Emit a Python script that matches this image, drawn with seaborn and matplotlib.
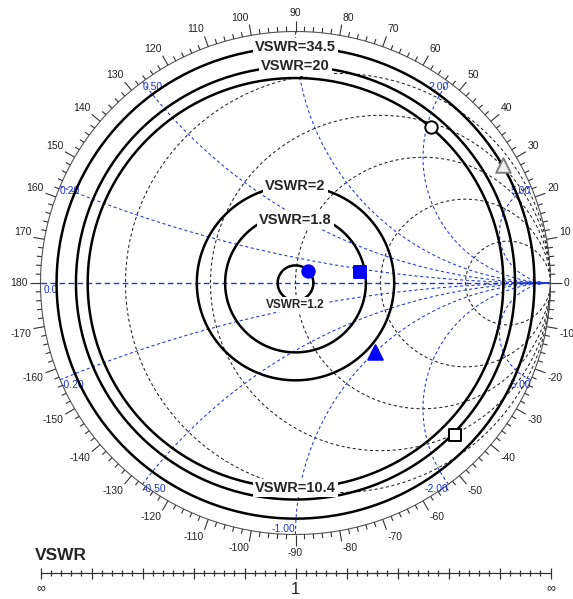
import numpy as np
import pandas as pd
import matplotlib
matplotlib.use("Agg")
import matplotlib.pyplot as plt
from matplotlib.collections import LineCollection
import seaborn as sns

# -----------------------------
# DATA
# -----------------------------
vswr_labels = ["34.5", "20", "10.4", "2", "1.8", "1.2"]
vswr_gamma = [0.937, 0.861, 0.815, 0.387, 0.276, 0.070]   # drawn radius |Gamma|
vswr_label_side = ["top", "top", "bottom", "top", "top", "bottom"]

resistance_values = [0.2, 0.5, 1.0, 2.0, 5.0]
reactance_values = [0.2, 0.5, 1.0, 2.0, 5.0, -0.2, -0.5, -1.0, -2.0, -5.0]
reactance_labels = ["0.20", "0.50", "", "2.00", "5.00", "-0.20", "-0.50", "-1.00", "-2.00", "-5.00"]

marker_re = [0.049, 0.253, 0.312, 0.531, 0.814, 0.625]
marker_im = [0.048, 0.044, -0.274, 0.620, 0.469, -0.604]
marker_shape = ["o", "s", "^", "o", "^", "s"]
marker_face = ["#0000ff", "#0000ff", "#0000ff", "white", "#eeeeee", "white"]
marker_edge = ["#0000ff", "#0000ff", "#0000ff", "black", "#7f7f7f", "black"]

angle_labels = list(range(-170, 190, 10))

# -----------------------------
# STYLE / LAYOUT
# -----------------------------
sns.set_theme(style="white")
plt.rcParams["font.family"] = ["Liberation Sans", "DejaVu Sans"]

W, H = 573, 599
CX, CY = 295.5, 283.0   # chart centre in pixels
RX, RY = 255.0, 251.5   # pixels per unit Gamma
BLUE = "#1c36d8"


def px(dx=0.0, dy=0.0):
    return dx / RX, dy / RY


fig = plt.figure(figsize=(W / 100, H / 100), dpi=100)
ax = fig.add_axes([0, 0, 1, 1])
ax.set_xlim(-CX / RX, (W - CX) / RX)
ax.set_ylim((CY - H) / RY, CY / RY)
ax.axis("off")

t = np.linspace(0, 2 * np.pi, 721)

# constant resistance circles (black dashed)
for r in resistance_values:
    c, rad = r / (1 + r), 1 / (1 + r)
    ax.plot(c + rad * np.cos(t), rad * np.sin(t), color="#222222", lw=0.75,
            ls=(0, (3, 2.5)), zorder=2)

# constant reactance arcs (blue dashed)
rr = np.concatenate([[0.0], np.logspace(-3, 4, 600)])
for x, lab in zip(reactance_values, reactance_labels):
    g = (rr + 1j * x - 1) / (rr + 1j * x + 1)
    ax.plot(g.real, g.imag, color=BLUE, lw=0.75, ls=(0, (3, 2.5)), zorder=2)
    if not lab:
        continue
    g0 = g[0]
    ha = "left" if g0.real < -0.05 else "right"
    va = "bottom" if abs(g0.real) < 0.05 and g0.imag < 0 else "top"
    ax.text(g0.real, g0.imag, lab, color=BLUE, fontsize=7.5, ha=ha, va=va, zorder=3)

# real axis
ax.plot([-1, 1], [0, 0], color=BLUE, lw=1.0, ls=(0, (4, 2.5)), zorder=2)
ax.text(-1 + px(3)[0], -px(0, 2)[1], "0.0", color=BLUE, fontsize=7.5, ha="left", va="top", zorder=3)

# outer rim with angle ticks
ax.plot(np.cos(t), np.sin(t), color="#555555", lw=0.8, zorder=2)
segs = []
for deg in range(-180, 180, 2):
    a = np.deg2rad(deg)
    L = 11 if deg % 10 == 0 else 5
    segs.append([(np.cos(a), np.sin(a)),
                 (np.cos(a) * (1 + L / RX), np.sin(a) * (1 + L / RY))])
ax.add_collection(LineCollection(segs, colors="#333333", linewidths=0.8, zorder=2))

for deg in angle_labels:
    a = np.deg2rad(deg)
    ca, sa = np.cos(a), np.sin(a)
    ha = "left" if ca > 0.1 else ("right" if ca < -0.1 else "center")
    va = "bottom" if sa > 0.1 else ("top" if sa < -0.1 else "center")
    ax.text(ca * (1 + 13 / RX), sa * (1 + 13 / RY), str(deg), fontsize=7.5,
            color="#222222", ha=ha, va=va)

# VSWR circles
circ = pd.concat([
    pd.DataFrame({"x": g * np.cos(t), "y": g * np.sin(t), "vswr": lab})
    for lab, g in zip(vswr_labels, vswr_gamma)
], ignore_index=True)
sns.lineplot(data=circ, x="x", y="y", units="vswr", estimator=None, sort=False,
             color="black", lw=1.8, ax=ax, zorder=4)

for lab, g, side in zip(vswr_labels, vswr_gamma, vswr_label_side):
    small = lab == "1.2"
    if small:
        y = -g - px(0, 4)[1]
    elif lab == "1.8":
        y = g - px(0, 6)[1]
    else:
        y = g if side == "top" else -g
    ax.text(0, y, f"VSWR={lab}", fontsize=8.5 if small else 10.5,
            fontweight="bold", ha="center", va="center", zorder=6,
            bbox=dict(boxstyle="square,pad=0.15", fc="white", ec="none"))

# markers
for re_, im_, m, fc, ec in zip(marker_re, marker_im, marker_shape, marker_face, marker_edge):
    size = 110 if m == "^" else 80
    sns.scatterplot(x=[re_], y=[im_], marker=m, s=size, color=fc, edgecolor=ec,
                    linewidth=1.4, ax=ax, zorder=7)

# VSWR scale at the bottom
ys = (CY - 573) / RY
ax.plot([-1, 1], [ys, ys], color="#333333", lw=0.9)
scale_segs = []
for i in range(51):
    xv = -1 + i * 0.04
    L = 5.5 if i % 5 == 0 else 3
    scale_segs.append([(xv, ys - L / RY), (xv, ys + L / RY)])
ax.add_collection(LineCollection(scale_segs, colors="#333333", linewidths=0.9))
ax.text(-1 - px(6)[0], (CY - 556) / RY, "VSWR", fontsize=12.5, fontweight="bold",
        ha="left", va="center")
ax.text(-1, (CY - 588) / RY, "\u221e", fontsize=9, ha="center", va="center")
ax.text(1, (CY - 588) / RY, "\u221e", fontsize=9, ha="center", va="center")
ax.text(0, (CY - 590) / RY, "1", fontsize=12, ha="center", va="center")

fig.savefig("out.png", dpi=100, facecolor="white")
